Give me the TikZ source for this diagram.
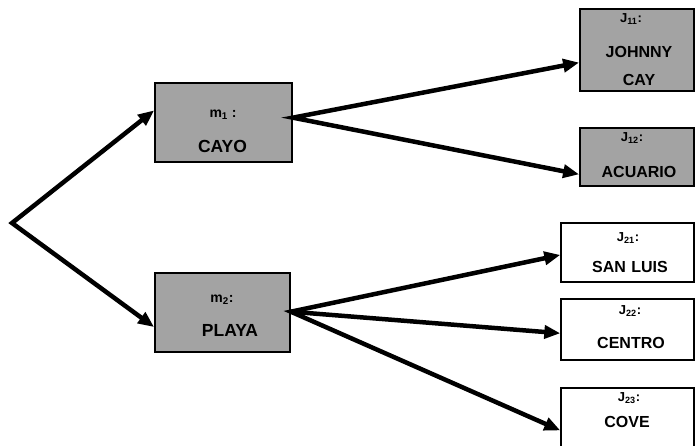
\documentclass[tikz,border=0pt]{standalone}
\usepackage{fontspec}
\setmainfont{Liberation Sans}
\usetikzlibrary{arrows.meta,calc}
\begin{document}
\begin{tikzpicture}[x=1pt,y=-1pt,
  greybox/.style={draw=black,line width=1.8pt,fill=black!36,inner sep=0pt},
  whitebox/.style={draw=black,line width=1.4pt,fill=white,inner sep=0pt},
  placename/.style={font=\bfseries\fontsize{16}{18}\selectfont,inner sep=0pt,anchor=center},
  bigname/.style={font=\bfseries\fontsize{17.5}{19}\selectfont,inner sep=0pt,anchor=center},
  jtag/.style={font=\bfseries\fontsize{13}{15}\selectfont,inner sep=0pt,anchor=center},
  mtag/.style={font=\bfseries\fontsize{14}{16}\selectfont,inner sep=0pt,anchor=center},
  flow/.style={line width=4.5pt,line join=miter,miter limit=20,
    {Triangle[length=16pt,width=13pt]}-{Triangle[length=16pt,width=13pt]}},
  single/.style={line width=4.5pt,-{Triangle[length=16pt,width=13pt]}}]
\useasboundingbox (0,0) rectangle (695,445);

% first level: m1, m2
\node[greybox,minimum width=137pt,minimum height=79pt] (cayo) at (223.5,122.5) {};
\node[greybox,minimum width=135pt,minimum height=79pt] (playa) at (222.5,312.5) {};

% second level
\node[greybox,minimum width=114pt,minimum height=82pt] (johnny) at (637,50) {};
\node[greybox,minimum width=114pt,minimum height=58pt] (acuario) at (637,157) {};
\node[whitebox,minimum width=133pt,minimum height=59pt] (sanluis) at (627.5,252.5) {};
\node[whitebox,minimum width=133pt,minimum height=61pt] (centro) at (627.5,329.5) {};
\node[whitebox,minimum width=133pt,minimum height=62pt] (cove) at (627.5,419) {};

% texts
\node[mtag] (cayoT) at (223,115) {m\textsubscript{1} :};
\node[bigname] (cayoN) at (222.5,146) {CAYO};
\node[mtag] (playaT) at (222,300) {m\textsubscript{2}:};
\node[bigname] (playaN) at (230,330) {PLAYA};
\node[jtag] (johnnyT) at (631,19) {J\textsubscript{11}:};
\node[placename] (johnnyN) at (639,52) {JOHNNY};
\node[placename] (johnnyM) at (639,80) {CAY};
\node[jtag] (acuarioT) at (632,138) {J\textsubscript{12}:};
\node[placename] (acuarioN) at (639,172) {ACUARIO};
\node[jtag] (sanluisT) at (628,238) {J\textsubscript{21}:};
\node[placename] (sanluisN) at (630,267) {SAN\,\,LUIS};
\node[jtag] (centroT) at (630,311) {J\textsubscript{22}:};
\node[placename] (centroN) at (631,343) {CENTRO};
\node[jtag] (coveT) at (629,398) {J\textsubscript{23}:};
\node[placename] (coveN) at (627,422) {COVE};

% branching point and connector ends
\coordinate (root) at (12,223);
\coordinate (cayoIn) at ($(cayo.north west)!0.35!(cayo.south west)$);
\coordinate (playaIn) at ($(playa.north west)!0.68!(playa.south west)$);
\coordinate (cayoOut) at ($(cayo.north east)!0.44!(cayo.south east)$);
\coordinate (playaOut) at ($(playa.north east)!0.49!(playa.south east)$);
\coordinate (johnnyIn) at ($(johnny.north west)!0.65!(johnny.south west)$);
\coordinate (acuarioIn) at ($(acuario.north west)!0.79!(acuario.south west)$);
\coordinate (sanluisIn) at ($(sanluis.north west)!0.54!(sanluis.south west)$);
\coordinate (centroIn) at ($(centro.north west)!0.56!(centro.south west)$);
\coordinate (coveIn) at ($(cove.north west)!0.68!(cove.south west)$);

% connectors
\draw[flow] (cayoIn) -- (root) -- (playaIn);
\draw[flow] (johnnyIn) -- (cayoOut) -- (acuarioIn);
\draw[flow] (sanluisIn) -- (playaOut) -- (coveIn);
\draw[single] (playaOut) -- (centroIn);
\end{tikzpicture}
\end{document}
